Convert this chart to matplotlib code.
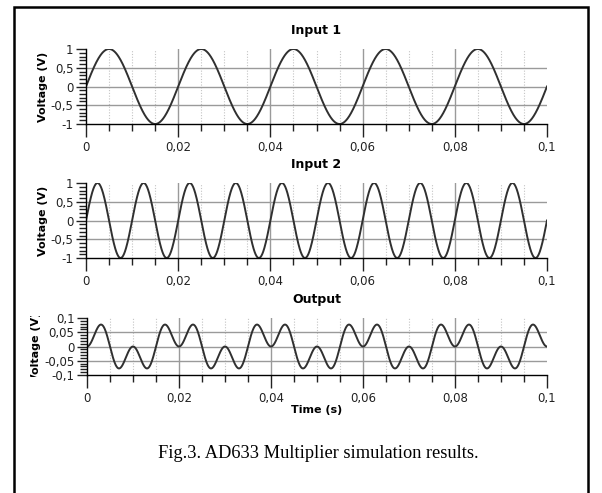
import matplotlib.pyplot as plt
from matplotlib.patches import Rectangle
from matplotlib.ticker import MultipleLocator, FuncFormatter
from matplotlib.transforms import Bbox, TransformedBbox
import numpy as np

# signal settings
titles = ["Input 1", "Input 2", "Output"]
freq_in1 = 50.0      # Hz, 5 periods in 0.1 s
freq_in2 = 100.0     # Hz, 10 periods in 0.1 s
amp_in1 = 1.0        # V
amp_in2 = 1.0        # V
ad633_scale = 10.0   # W = X*Y/10
t_stop = 0.1
n_samples = 2001

y_limits = [(-1, 1), (-1, 1), (-0.1, 0.1)]
y_major = [0.5, 0.5, 0.05]
y_minor = [0.1, 0.1, 0.01]
x_ticks = [0, 0.02, 0.04, 0.06, 0.08, 0.1]
x_minor = 0.005

t = np.linspace(0, t_stop, n_samples)
in1 = amp_in1 * np.sin(2 * np.pi * freq_in1 * t)
in2 = amp_in2 * np.sin(2 * np.pi * freq_in2 * t)
out = in1 * in2 / ad633_scale
signals = [in1, in2, out]

W, H = 602, 493
fig = plt.figure(figsize=(W / 100, H / 100), dpi=100)

def fx(px):
  return px / W

def fy(px):
  return 1 - px / H

# axes boxes in pixels: left, right, top, bottom
boxes = [(86, 547, 49, 124), (86, 547, 183, 258), (87, 547, 318, 375)]

def comma(v, pos):
  s = "%g" % v
  return s.replace(".", ",")

# gridlines only inside the plot, not on its edges
x_grid_major = x_ticks[1:-1]
x_grid_minor = [k * x_minor for k in range(1, int(round(t_stop / x_minor)))
                if k % 4 != 0]

axes = []
for i, (l, r, tp, b) in enumerate(boxes):
  ax = fig.add_axes([fx(l), fy(b), fx(r) - fx(l), fy(tp) - fy(b)])
  lo, hi = y_limits[i]
  n = int(round((hi - lo) / y_major[i]))
  y_grid = [lo + k * y_major[i] for k in range(1, n)]
  for v in x_grid_minor:
    ax.axvline(v, color="#c4c4c4", lw=0.8, ls=(0, (1, 1.5)), zorder=0)
  for v in x_grid_major:
    ax.axvline(v, color="#9a9a9a", lw=1.0, zorder=0)
  for v in y_grid:
    ax.axhline(v, color="#9a9a9a", lw=1.0, zorder=0)
  ax.plot(t, signals[i], color="#303030", lw=1.4)
  ax.set_xlim(0, t_stop)
  ax.set_ylim(lo, hi)
  ax.set_xticks(x_ticks)
  ax.xaxis.set_minor_locator(MultipleLocator(x_minor))
  ax.yaxis.set_major_locator(MultipleLocator(y_major[i]))
  ax.yaxis.set_minor_locator(MultipleLocator(y_minor[i]))
  ax.xaxis.set_major_formatter(FuncFormatter(comma))
  ax.yaxis.set_major_formatter(FuncFormatter(comma))
  for s in ["top", "right"]:
    ax.spines[s].set_visible(False)
  ax.spines["left"].set_linewidth(1.0)
  ax.spines["bottom"].set_linewidth(1.0)
  ax.tick_params(which="major", length=9, width=1, labelsize=8.5, colors="#222222", pad=3)
  ax.tick_params(which="minor", length=5, width=1, colors="#222222")
  ax.tick_params(axis="y", which="major", length=7, pad=2)
  ax.tick_params(axis="y", which="minor", length=5)
  ax.set_title(titles[i], fontsize=9, fontweight="bold", pad=11)
  ax.set_ylabel("Voltage (V)", fontsize=8, fontweight="bold", labelpad=2)
  axes.append(ax)

# the output label is cut at the plot height in the original
lab = axes[2].yaxis.label
clip = TransformedBbox(Bbox([[0, fy(377)], [fx(80), fy(316)]]), fig.transFigure)
lab.set_clip_box(clip)
lab.set_clip_on(True)

axes[2].set_xlabel("Time (s)", fontsize=8, fontweight="bold", labelpad=0)

fig.text(fx(318), fy(453), "Fig.3. AD633 Multiplier simulation results.",
         family="Liberation Serif", fontsize=13.2, ha="center", va="center")

fig.patches.append(Rectangle((fx(14), fy(500)), fx(588) - fx(14), fy(7) - fy(500),
                             transform=fig.transFigure, fill=False, ec="black", lw=1.8))

fig.savefig("out.png", dpi=100)
